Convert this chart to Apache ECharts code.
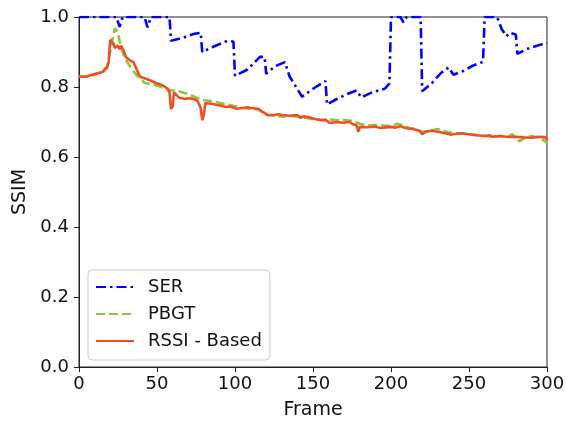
<!DOCTYPE html>
<html>
<head>
<meta charset="utf-8">
<title>SSIM per frame</title>
<script src="https://cdn.jsdelivr.net/npm/echarts@6/dist/echarts.min.js"></script>
<style>
  html, body { margin: 0; padding: 0; background: #fff; }
  #chart { width: 566px; height: 421px; }
</style>
</head>
<body>
<div id="chart"></div>
<script>
// values
var xTicks = [0, 50, 100, 150, 200, 250, 300];
var yTicks = [0.0, 0.2, 0.4, 0.6, 0.8, 1.0];

var serFrames = [0, 24, 26, 28, 42, 44, 46, 58, 59, 66, 74, 78, 79, 86, 94, 99, 100, 108, 116, 119, 120, 126, 132, 135, 143, 150, 158, 159, 165, 172, 178, 181, 188, 196, 199, 200, 206, 208, 210, 219, 220, 226, 232, 237, 240, 246, 252, 259, 260, 268, 271, 274, 276, 280, 281, 288, 295, 300];
var serValues = [1.0, 1.0, 0.972, 1.0, 1.0, 0.97, 1.0, 1.0, 0.932, 0.94, 0.952, 0.955, 0.9, 0.915, 0.93, 0.93, 0.832, 0.85, 0.886, 0.886, 0.838, 0.86, 0.871, 0.83, 0.772, 0.795, 0.817, 0.75, 0.765, 0.78, 0.79, 0.77, 0.785, 0.795, 0.81, 1.0, 1.0, 0.985, 1.0, 1.0, 0.788, 0.81, 0.84, 0.856, 0.835, 0.845, 0.86, 0.872, 1.0, 1.0, 0.965, 0.945, 0.955, 0.95, 0.895, 0.91, 0.92, 0.925];

var pbgtFrames = [0, 5, 10, 15, 18, 20, 22, 23, 25, 26, 28, 30, 34, 38, 42, 46, 51, 55, 58, 62, 66, 70, 75, 80, 85, 90, 95, 100, 105, 110, 115, 120, 125, 130, 135, 140, 145, 150, 155, 160, 165, 170, 175, 180, 185, 190, 195, 200, 204, 208, 212, 216, 220, 225, 230, 235, 240, 245, 250, 255, 260, 265, 270, 275, 278, 282, 286, 290, 295, 299, 300];
var pbgtValues = [0.83, 0.83, 0.835, 0.845, 0.86, 0.9, 0.95, 0.968, 0.955, 0.93, 0.9, 0.877, 0.85, 0.829, 0.812, 0.808, 0.803, 0.795, 0.79, 0.79, 0.785, 0.78, 0.77, 0.762, 0.76, 0.755, 0.75, 0.745, 0.74, 0.738, 0.735, 0.72, 0.718, 0.715, 0.718, 0.715, 0.712, 0.708, 0.706, 0.708, 0.705, 0.706, 0.703, 0.695, 0.69, 0.692, 0.69, 0.688, 0.695, 0.69, 0.682, 0.68, 0.672, 0.675, 0.68, 0.673, 0.668, 0.668, 0.665, 0.662, 0.66, 0.658, 0.66, 0.658, 0.665, 0.645, 0.655, 0.66, 0.655, 0.645, 0.64];

var rssiFrames = [0, 5, 8, 10, 13, 15, 18, 19, 20, 22, 23, 25, 26, 27, 29, 30, 33, 35, 37, 39, 42, 45, 49, 53, 57, 58, 59, 60, 61, 62, 64, 68, 71, 74, 76, 78, 79, 80, 81, 85, 88, 90, 94, 97, 101, 105, 108, 110, 115, 118, 121, 125, 128, 130, 135, 140, 142, 144, 147, 150, 153, 155, 158, 161, 165, 170, 173, 175, 178, 179, 180, 185, 190, 193, 195, 200, 203, 206, 210, 214, 218, 220, 222, 226, 230, 235, 238, 240, 245, 250, 255, 260, 263, 265, 270, 275, 280, 285, 290, 295, 299, 300];
var rssiValues = [0.829, 0.83, 0.834, 0.837, 0.84, 0.843, 0.855, 0.87, 0.935, 0.925, 0.912, 0.918, 0.908, 0.918, 0.9, 0.886, 0.875, 0.871, 0.85, 0.83, 0.825, 0.82, 0.812, 0.806, 0.795, 0.785, 0.737, 0.745, 0.785, 0.783, 0.77, 0.766, 0.768, 0.765, 0.76, 0.74, 0.705, 0.72, 0.754, 0.752, 0.749, 0.748, 0.743, 0.744, 0.738, 0.74, 0.742, 0.74, 0.738, 0.728, 0.72, 0.72, 0.722, 0.72, 0.718, 0.72, 0.712, 0.716, 0.714, 0.71, 0.707, 0.705, 0.706, 0.697, 0.7, 0.698, 0.701, 0.695, 0.69, 0.672, 0.686, 0.685, 0.687, 0.683, 0.684, 0.686, 0.684, 0.688, 0.682, 0.68, 0.675, 0.665, 0.672, 0.675, 0.672, 0.668, 0.664, 0.665, 0.668, 0.665, 0.662, 0.66, 0.662, 0.658, 0.66, 0.657, 0.658, 0.656, 0.655, 0.658, 0.656, 0.648];

function pairs(xs, ys) {
  var out = [];
  for (var i = 0; i < xs.length; i++) out.push([xs[i], ys[i]]);
  return out;
}

var font = 'DejaVu Sans';
var chart = echarts.init(document.getElementById('chart'));

chart.setOption({
  backgroundColor: '#fff',
  animation: false,
  grid: {
    left: 79, right: 19, top: 17, bottom: 54,
    containLabel: false, outerBoundsMode: 'none',
    show: true, borderColor: '#222', borderWidth: 1
  },
  legend: {
    orient: 'vertical',
    left: 88, top: 270,
    data: ['SER', 'PBGT', 'RSSI - Based'],
    itemWidth: 38, itemHeight: 14, itemGap: 9,
    padding: [8, 8, 10, 7],
    borderColor: '#ccc', borderWidth: 1, borderRadius: 4,
    backgroundColor: 'rgba(255,255,255,0.8)',
    itemStyle: { opacity: 0 },
    textStyle: { fontFamily: font, fontSize: 18, color: '#111', padding: [0, 0, 0, 9] }
  },
  xAxis: {
    type: 'value', min: 0, max: 300, interval: 50,
    name: 'Frame', nameLocation: 'middle', nameGap: 34,
    nameTextStyle: { fontFamily: font, fontSize: 19, color: '#111' },
    axisLine: { lineStyle: { color: '#222' } },
    axisTick: { show: true, length: 5, lineStyle: { color: '#222' } },
    axisLabel: {
      fontFamily: font, fontSize: 18, color: '#111', margin: 8,
      formatter: function (v) { return xTicks.indexOf(v) >= 0 ? String(v) : ''; }
    },
    splitLine: { show: false }
  },
  yAxis: {
    type: 'value', min: 0, max: 1, interval: 0.2,
    name: 'SSIM', nameLocation: 'middle', nameGap: 38,
    nameTextStyle: { fontFamily: font, fontSize: 19, color: '#111' },
    axisLine: { show: true, lineStyle: { color: '#222' } },
    axisTick: { show: true, length: 5, lineStyle: { color: '#222' } },
    axisLabel: {
      fontFamily: font, fontSize: 18, color: '#111', margin: 10,
      formatter: function (v) { return v.toFixed(1); }
    },
    splitLine: { show: false }
  },
  series: [
    {
      name: 'SER', type: 'line', symbol: 'none', clip: true,
      data: pairs(serFrames, serValues),
      itemStyle: { color: '#0000ff' },
      lineStyle: { color: '#0000ff', width: 2.6, type: [10, 4, 2.5, 4] }
    },
    {
      name: 'PBGT', type: 'line', symbol: 'none', clip: true,
      data: pairs(pbgtFrames, pbgtValues),
      itemStyle: { color: '#8cc63f' },
      lineStyle: { color: '#8cc63f', width: 2.6, type: [9, 4] }
    },
    {
      name: 'RSSI - Based', type: 'line', symbol: 'none', clip: true,
      data: pairs(rssiFrames, rssiValues),
      itemStyle: { color: '#f04e23' },
      lineStyle: { color: '#f04e23', width: 2.6 }
    }
  ]
});
</script>
</body>
</html>
